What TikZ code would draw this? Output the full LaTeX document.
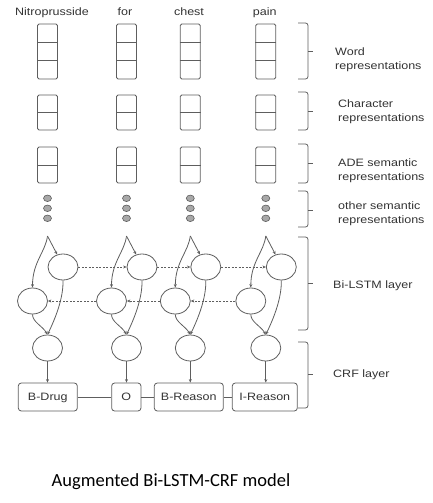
\documentclass[tikz,border=0pt]{standalone}
\usepackage{fontspec}
\newfontfamily\lab[FakeStretch=1.17]{Liberation Sans}
\newfontfamily\capfont{Carlito}
\usetikzlibrary{shapes.geometric,arrows.meta,calc}
\definecolor{ln}{HTML}{5E5E5E}
\definecolor{tx}{HTML}{333333}
\definecolor{dotf}{HTML}{A8A8A8}
\begin{document}
\begin{tikzpicture}[x=1pt,y=1pt,
  lbl/.style={font=\lab\fontsize{10.7}{13}\selectfont, text=tx, inner sep=0pt},
  vec/.style={draw=ln, line width=0.8pt, rounded corners=1.5pt, minimum width=20pt, inner sep=0pt},
  cell/.style={draw=ln, line width=0.8pt},
  dotn/.style={ellipse, draw=ln, fill=dotf, line width=0.6pt, minimum width=8pt, minimum height=6.5pt, inner sep=0pt},
  neur/.style={ellipse, draw=ln, line width=0.8pt, minimum width=30pt, minimum height=26pt, inner sep=0pt},
  tag/.style={draw=ln, line width=0.8pt, rounded corners=3pt, minimum height=28pt, inner sep=0pt, text height=7.7pt, text depth=0pt, font=\lab\fontsize{10.7}{13}\selectfont, text=tx},
  arr/.style={draw=ln, line width=0.8pt, -{Stealth[length=3.5pt,width=3pt]}},
  darr/.style={arr, dash pattern=on 2pt off 1.5pt},
  brace/.style={draw=ln, line width=0.8pt, rounded corners=2.5pt},
  plain/.style={draw=ln, line width=0.8pt}
]
\useasboundingbox (0,0) rectangle (433,-503);

\foreach \i/\c/\wx/\w in {1/47.5/52/Nitroprusside, 2/126.5/125/for, 3/190.3/189/chest, 4/265.8/264.7/pain} {
  \node[lbl, anchor=base] (T\i) at (\wx,-15.8) {\w};
  % word vector
  \node[vec, minimum height=55pt] (W\i) at (\c,-51.5) {};
  \draw[cell] ($(W\i.north west)!1/3!(W\i.south west)$) -- ($(W\i.north east)!1/3!(W\i.south east)$);
  \draw[cell] ($(W\i.north west)!2/3!(W\i.south west)$) -- ($(W\i.north east)!2/3!(W\i.south east)$);
  % character vector
  \node[vec, minimum height=35pt] (C\i) at (\c,-112.5) {};
  \draw[cell] (C\i.west) -- (C\i.east);
  % ADE vector
  \node[vec, minimum height=36pt] (E\i) at (\c,-165) {};
  \draw[cell] (E\i.west) -- (E\i.east);
  % other semantic dots
  \node[dotn] (Da\i) at (\c,-198.3) {};
  \node[dotn] (Db\i) at (\c,-208.3) {};
  \node[dotn] (Dc\i) at (\c,-218.3) {};
  % Bi-LSTM
  \coordinate (A\i) at (\c,-236);
  \node[neur] (U\i) at ({\c+15.5},-267) {};
  \node[neur] (L\i) at ({\c-15},-301) {};
  \node[neur] (R\i) at (\c,-348) {};
  \draw[arr] (A\i) -- (U\i.115);
  \draw[arr] (A\i) .. controls ({\c-2},-252) and ({\c-15},-262) .. (L\i.north);
  \draw[arr] (U\i.south) .. controls ({\c+16},-298) and ({\c+8},-318) .. (R\i.north);
  \draw[arr] (L\i.south) .. controls ({\c-15},-322) and ({\c-5},-326) .. (R\i.north);
}

% CRF tags
\node[tag, minimum width=59pt] (G1) at (47.8,-397) {B-Drug};
\node[tag, minimum width=29.3pt] (G2) at (126.3,-397) {O};
\node[tag, minimum width=69pt] (G3) at (188.8,-397) {B-Reason};
\node[tag, minimum width=65pt] (G4) at (264.8,-397) {I-Reason};
\foreach \i in {1,2,3,4} {
  \draw[arr] (R\i.south) -- (R\i.south |- G\i.north);
}
\draw[plain] (G1.east) -- (G2.west);
\draw[plain] (G2.east) -- (G3.west);
\draw[plain] (G3.east) -- (G4.west);

% recurrent connections
\foreach \a/\b in {1/2,2/3,3/4} {
  \draw[darr] (U\a.east) -- (U\b.west);
  \draw[darr] (L\b.west) -- (L\a.east);
}

% braces
\foreach \t/\b/\m in {23/79/51, 92/130/111, 144/183/163, 191/227/210, 237/330/283, 342/408/374} {
  \draw[brace] (298,-\t) -- (308,-\t) -- (308,-\b) -- (298,-\b);
  \draw[plain] (308,-\m) -- (313,-\m);
}

% labels
\node[lbl, anchor=base west] (l1a) at (335,-55.8) {Word};
\node[lbl, anchor=base west] (l1b) at (335,-69.8) {representations};
\node[lbl, anchor=base west] (l2a) at (338,-107.8) {Character};
\node[lbl, anchor=base west] (l2b) at (338,-121.8) {representations};
\node[lbl, anchor=base west] (l3a) at (338,-166.8) {ADE semantic};
\node[lbl, anchor=base west] (l3b) at (338,-180.8) {representations};
\node[lbl, anchor=base west] (l4a) at (338,-209.8) {other semantic};
\node[lbl, anchor=base west] (l4b) at (338,-223.8) {representations};
\node[lbl, anchor=base west] (l5) at (333,-288.8) {Bi-LSTM layer};
\node[lbl, anchor=base west] (l6) at (333,-377.8) {CRF layer};

\node[font=\capfont\fontsize{18.5}{22}\selectfont, anchor=base, inner sep=0pt] (cap) at (171,-486) {Augmented Bi-LSTM-CRF model};
\end{tikzpicture}
\end{document}
